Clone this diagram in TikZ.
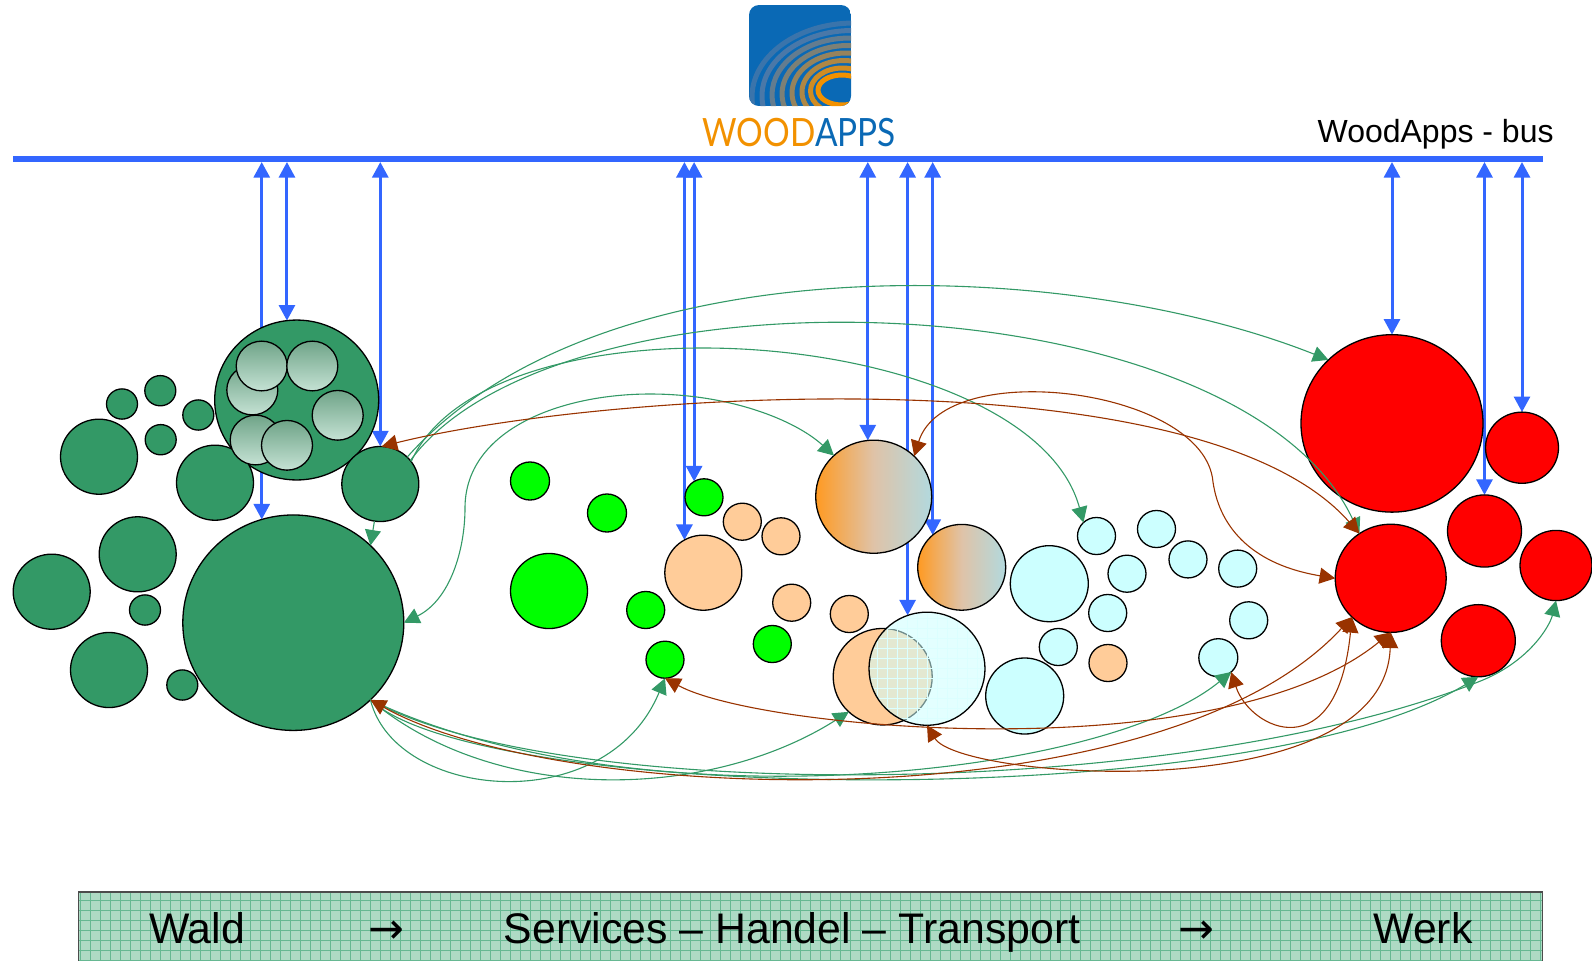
\documentclass[tikz,border=0pt]{standalone}
\usepackage{fontspec}
\setmainfont{Liberation Sans}
\newfontfamily\logofont{Lato}
\newfontfamily\arrowfont{DejaVu Sans}
\usetikzlibrary{arrows.meta,backgrounds,calc,shapes.geometric}
\definecolor{woodgreen}{HTML}{339966}
\definecolor{rawbrown}{HTML}{993300}
\definecolor{busblue}{HTML}{3366FF}
\definecolor{tradeorange}{HTML}{FFCC99}
\definecolor{planecyan}{HTML}{CCFFFF}
\definecolor{shadetop}{HTML}{6FA488}
\definecolor{shadelow}{HTML}{C5E2D4}
\definecolor{mixleft}{HTML}{FF9A22}
\definecolor{mixmid}{HTML}{DFC3A8}
\definecolor{mixright}{HTML}{B2D9DE}
\definecolor{logoblue}{HTML}{0A69B5}
\definecolor{logorange}{HTML}{F29100}
\definecolor{logoring}{HTML}{4A78A8}
\definecolor{barfill}{HTML}{AEDAC4}
\definecolor{barline}{HTML}{66B892}

\begin{document}
\begin{tikzpicture}[x=0.5pt,y=-0.5pt,>={Triangle[length=7.8pt,width=8pt]},
  disc/.style={ellipse,draw=black,line width=0.65pt,inner sep=0pt,outer sep=0pt},
  dia/.style={minimum width=#1,minimum height=0.975*#1},
  wood/.style={disc,fill=woodgreen},
  shaded/.style={disc,dia=25.5pt,top color=shadetop,bottom color=shadelow},
  forest/.style={disc,fill=green},
  trade/.style={disc,fill=tradeorange},
  plane/.style={disc,fill=planecyan},
  mixed/.style={disc,left color=mixleft,right color=mixright,middle color=mixmid},
  mill/.style={disc,fill=red},
  busline/.style={<->,busblue,line width=1.5pt},
  grnline/.style={woodgreen,line width=0.55pt},
  brnline/.style={<->,rawbrown,line width=0.55pt},
  chaintext/.style={anchor=base,font=\fontsize{21.4}{24}\selectfont}]
\useasboundingbox (0,0) rectangle (1592,960);
%logo
\begin{scope}
\clip[rounded corners=5pt] (749,5) rectangle (851,106);
\fill[logoblue] (749,5) rectangle (851,106);
\draw[line width=2.5pt,logoring!75!logoblue] (854,97) ellipse (102 and 74);
\draw[line width=2.5pt,logoring] (852,96) ellipse (90 and 65.5);
\draw[line width=2.5pt,logorange!15!logoring] (850,95) ellipse (78 and 57);
\draw[line width=2.5pt,logorange!30!logoring] (848,94) ellipse (66 and 48.5);
\draw[line width=2.5pt,logorange!45!logoring] (846,93) ellipse (54 and 40);
\draw[line width=2.5pt,logorange!60!logoring] (844,92) ellipse (42 and 31.5);
\draw[line width=2.5pt,logorange!80!logoring] (842.5,91) ellipse (32 and 23);
\draw[line width=2.5pt,logorange,fill=logoblue] (842,90) ellipse (24 and 15);
\end{scope}
\node[anchor=base west,inner sep=0pt,font=\logofont\fontsize{19.5}{22}\selectfont] (logotext) at (702,146) {\scalebox{0.855}[1]{\textcolor{logorange}{WOOD}\textcolor{logoblue}{APPS}}};
%bus
\node[fill=busblue,inner sep=0pt,minimum width=765pt,minimum height=2.6pt] (bus) at (778,159) {};
\node[anchor=base east,inner sep=0pt,font=\fontsize{16}{19}\selectfont] (bustext) at (1554,142) {WoodApps - bus};
%wald
\node[wood,dia=82pt] (wtop) at (296.7,400) {};
\node[wood,dia=15.5pt] (w1) at (122,404) {};
\node[wood,dia=15.5pt] (w2) at (160.3,390.7) {};
\node[wood,dia=15.5pt] (w3) at (198.3,415) {};
\node[wood,dia=15.5pt] (w4) at (160.7,439.7) {};
\node[wood,dia=38.5pt] (w5) at (99,456.7) {};
\node[wood,dia=38.5pt] (w6) at (215,482.7) {};
\node[wood,dia=38.5pt] (wgate) at (380.3,484) {};
\node[wood,dia=110.5pt] (wbig) at (293.3,622.7) {};
\node[wood,dia=38.5pt] (w7) at (137.7,554.3) {};
\node[wood,dia=38.5pt] (w8) at (51.7,591.7) {};
\node[wood,dia=15.5pt] (w9) at (145,610) {};
\node[wood,dia=38.5pt] (w10) at (109,670) {};
\node[wood,dia=15.5pt] (w11) at (182.3,685) {};
\node[shaded] (s1) at (252.3,390) {};
\node[shaded] (s2) at (261.7,366) {};
\node[shaded] (s3) at (312.3,366) {};
\node[shaded] (s4) at (337.7,415.3) {};
\node[shaded] (s5) at (255.7,440) {};
\node[shaded] (s6) at (287,445.3) {};
%services
\node[forest,dia=19.5pt] (g1) at (530,481) {};
\node[forest,dia=19.5pt] (g2) at (607,513) {};
\node[forest,dia=38.5pt] (g3) at (549,591) {};
\node[forest,dia=19pt] (g4) at (704,497.3) {};
\node[forest,dia=19pt] (g5) at (645.7,610) {};
\node[forest,dia=19pt] (g6) at (665,659.7) {};
\node[forest,dia=19pt] (g7) at (772.3,644) {};
\node[trade,dia=19pt] (o1) at (742.3,521.7) {};
\node[trade,dia=19pt] (o2) at (781,536.3) {};
\node[trade,dia=38.5pt] (o3) at (703.3,572.7) {};
\node[trade,dia=19pt] (o4) at (791.7,602.7) {};
\node[trade,dia=19pt] (o5) at (849.3,614) {};
\node[trade,dia=19pt] (o6) at (1108,663) {};
\node[trade,dia=49.5pt] (otrade) at (882.7,676.7) {};
\node[disc,dia=58pt,fill=planecyan,fill opacity=0.55,
  path picture={\draw[planecyan!70!white,line width=0.25pt] (path picture bounding box.south west) grid[step=5pt] (path picture bounding box.north east);}] (ctrade) at (927,668.7) {};
\node[mixed,dia=58pt] (mix1) at (873.7,496.7) {};
\node[mixed,dia=44pt] (mix2) at (961.7,567.3) {};
\node[plane,dia=39pt] (c1) at (1049.3,583.7) {};
\node[plane,dia=19pt] (c2) at (1058.3,647) {};
\node[plane,dia=39pt] (c3) at (1024.7,696) {};
\node[plane,dia=19pt] (c4) at (1096.5,536) {};
\node[plane,dia=19pt] (c5) at (1156.5,529) {};
\node[plane,dia=19pt] (c6) at (1127,573.7) {};
\node[plane,dia=19pt] (c7) at (1188,559.4) {};
\node[plane,dia=19pt] (c8) at (1237.7,568.6) {};
\node[plane,dia=19pt] (c9) at (1107.7,613) {};
\node[plane,dia=19pt] (c10) at (1248.7,620.3) {};
\node[plane,dia=19.5pt] (c11) at (1218.3,657.7) {};
%werk
\node[mill,dia=91pt] (rbig) at (1392,423.4) {};
\node[mill,dia=36.5pt] (r1) at (1522,447.7) {};
\node[mill,dia=55.5pt] (rgate) at (1390.7,578.3) {};
\node[mill,dia=37pt] (r2) at (1484.5,531) {};
\node[mill,dia=36pt] (r3) at (1556,565.5) {};
\node[mill,dia=37pt] (r4) at (1478.3,640.7) {};
%bus links
\begin{pgfonlayer}{background}
\draw[busline] (wbig.107 |- bus.south) -- (wbig.107);
\draw[busline] (wtop.97 |- bus.south) -- (wtop.97);
\draw[busline] (wgate.north |- bus.south) -- (wgate.north);
\draw[busline] (o3.120 |- bus.south) -- (o3.120);
\draw[busline] (g4.122 |- bus.south) -- (g4.122);
\draw[busline] (mix1.96 |- bus.south) -- (mix1.96);
\draw[busline] (ctrade.110 |- bus.south) -- (ctrade.110);
\draw[busline] (mix2.132 |- bus.south) -- (mix2.132);
\draw[busline] (rbig.north |- bus.south) -- (rbig.north);
\draw[busline] (r2.north |- bus.south) -- (r2.north);
\draw[busline] (r1.north |- bus.south) -- (r1.north);
\end{pgfonlayer}
%green flows
\draw[grnline,->] (wgate.45) .. controls (600,240) and (1070,257) .. (rbig.135);
\draw[grnline,->] (wgate.38) .. controls (560,258) and (1240,278) .. (rgate.125);
\draw[grnline,->] (wgate.36) .. controls (490,285) and (1030,325) .. (c4.134);
\draw[grnline,<->] (wbig.0) .. controls (450,600) and (465,550) .. (465,508) .. controls (465,430) and (560,394) .. (650,394) .. controls (730,394) and (795,420) .. (mix1.134);
\draw[grnline,->] (wgate.261) -- (wbig.45);
\draw[grnline,->] (wbig.-45) .. controls (395,800) and (606,820) .. (g6.south);
\draw[grnline,->] (wbig.-45) .. controls (497,806) and (710,800) .. (otrade.226);
\draw[grnline,->] (wbig.-45) .. controls (632,825) and (1100,780) .. (c11.-48);
\draw[grnline,->] (wbig.-45) .. controls (480,803) and (1250,815) .. (r4.south);
\draw[grnline,->] (wbig.-45) .. controls (560,805) and (1180,800) .. (1478,682) .. controls (1530,662) and (1550,625) .. (r3.south);
%brown flows
\draw[brnline] (wgate.88) .. controls (600,392) and (1200,352) .. (rgate.125);
\draw[brnline] (mix1.45) .. controls (945,356) and (1205,388) .. (1213,482) .. controls (1220,530) and (1255,565) .. (rgate.180);
\draw[brnline] (g6.south) .. controls (760,730) and (1221,771) .. (rgate.south);
\draw[brnline] (wbig.-45) .. controls (560,806) and (1160,825) .. (rgate.225);
\draw[brnline] (ctrade.south) .. controls (960,780) and (1385,810) .. (rgate.south);
\draw[brnline] (c11.-48) .. controls (1250,730) and (1337,770) .. (rgate.225);
%chain bar
\node[anchor=north west,draw=black!70,line width=0.6pt,fill=barfill,inner sep=0pt,outer sep=0pt,minimum width=732pt,minimum height=38pt,
  path picture={\draw[barline,line width=0.3pt] (path picture bounding box.south west) grid[step=5pt] (path picture bounding box.north east);}] (chain) at (78.5,892) {};
\node[chaintext] (wald) at (197,943.3) {Wald};
\node[chaintext,font=\arrowfont\fontsize{21.4}{24}\selectfont] (arrow1) at (386,943.3) {→};
\node[chaintext] (services) at (792,943.3) {Services – Handel – Transport};
\node[chaintext,font=\arrowfont\fontsize{21.4}{24}\selectfont] (arrow2) at (1196,943.3) {→};
\node[chaintext] (werk) at (1423,943.3) {Werk};
\end{tikzpicture}
\end{document}
